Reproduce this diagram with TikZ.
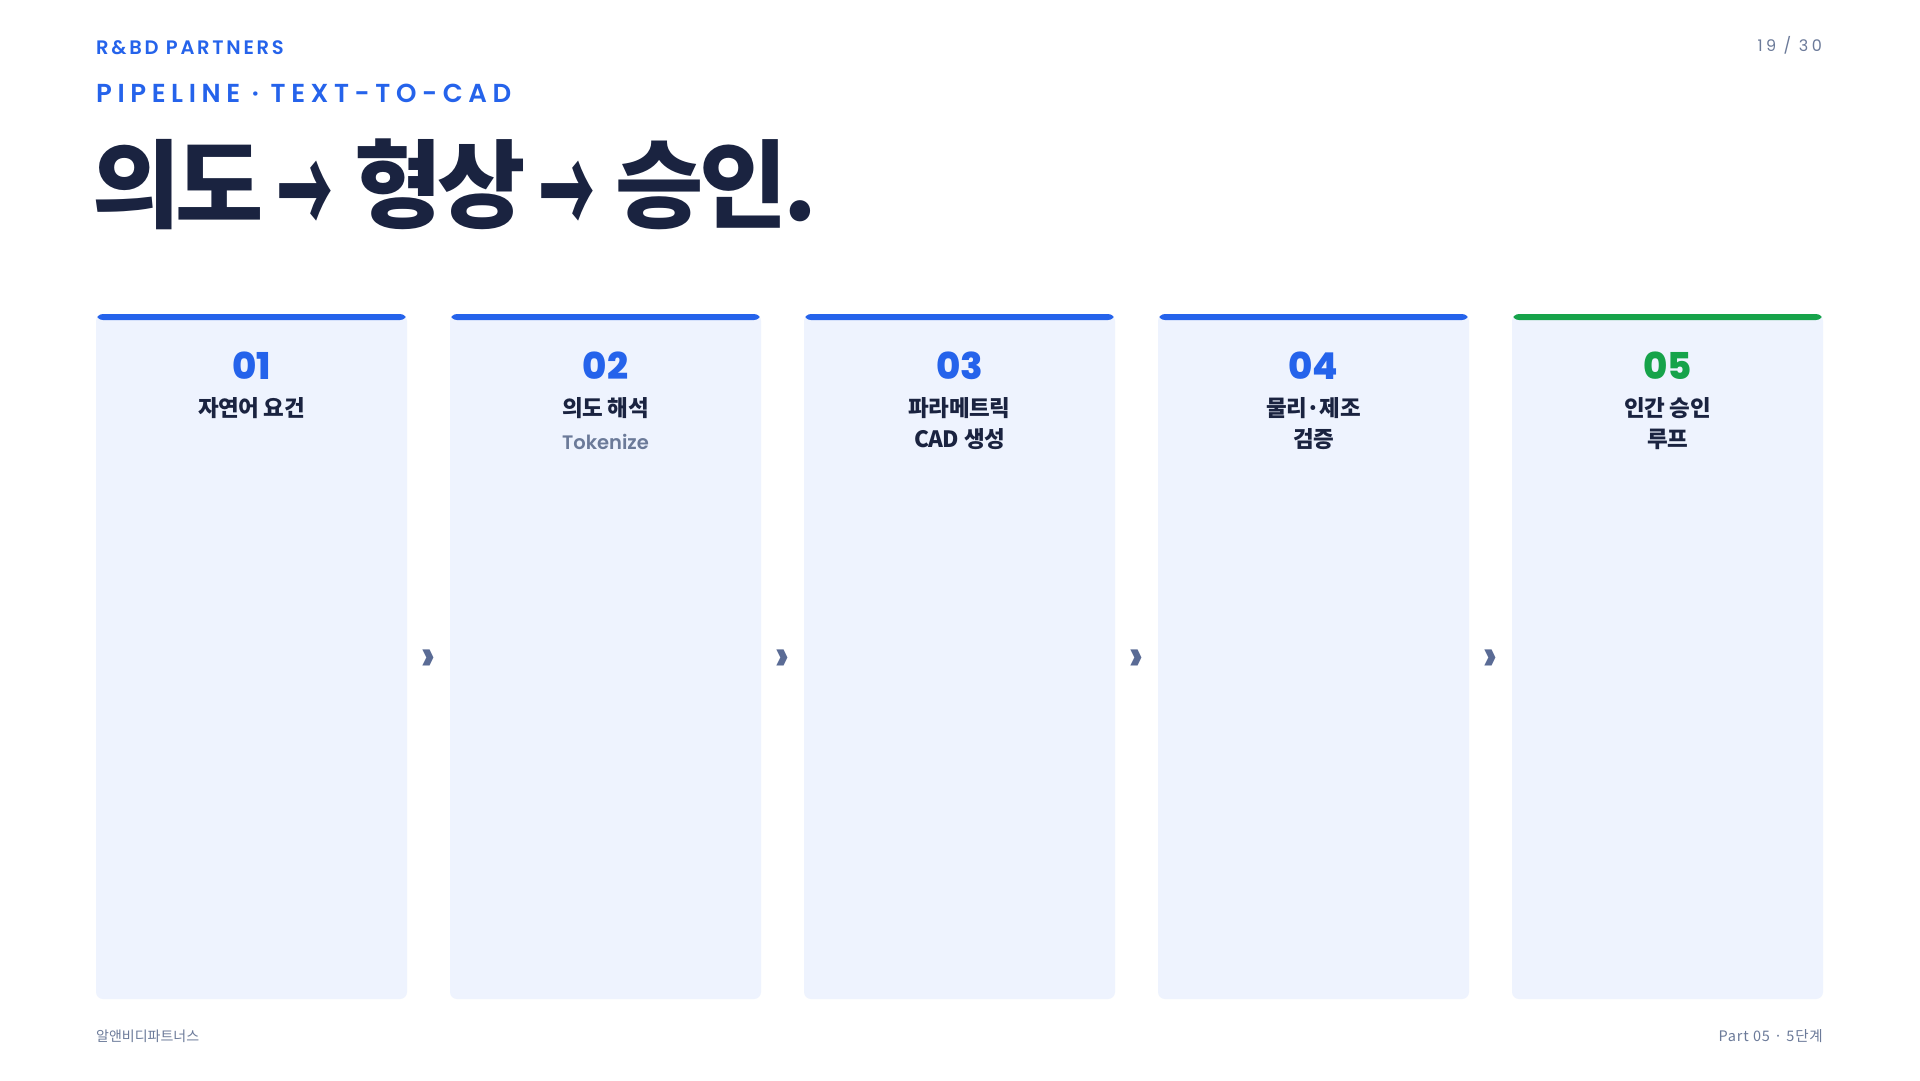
\documentclass[tikz,border=0pt]{standalone}
\usepackage{fontspec}
\usetikzlibrary{calc}
\setmainfont{Poppins}
\newfontfamily\pop{Poppins}
\newfontfamily\popX{Poppins ExtraBold}
\newfontfamily\popA[LetterSpace=14]{Poppins SemiBold}
\newfontfamily\popB[LetterSpace=21.5]{Poppins SemiBold}
\newfontfamily\popC[LetterSpace=21]{Poppins}
\newfontfamily\popM{Poppins SemiBold}
\newfontfamily\kr{Noto Sans CJK KR}
\newfontfamily\krt[LetterSpace=-5]{Noto Sans CJK KR}
\newfontfamily\krl[LetterSpace=-2]{Noto Sans CJK KR}
\newfontfamily\krf[LetterSpace=6]{Noto Sans CJK KR}
\definecolor{blueA}{HTML}{2563EB}
\definecolor{greenA}{HTML}{16A34A}
\definecolor{navy}{HTML}{1A2340}
\definecolor{grayA}{HTML}{6B7A99}
\definecolor{cardfill}{HTML}{EEF3FE}
\definecolor{chevc}{HTML}{5A6B95}
\newcommand\tarrow{\raisebox{-18pt}{\scalebox{0.58}[1.3]{→}}}
\tikzset{
  card/.style={fill=cardfill, rounded corners=7pt, minimum width=311pt, minimum height=685pt, inner sep=0pt, draw=none},
  num/.style={anchor=base, inner sep=0pt, font=\popX\fontsize{37}{40}\selectfont},
  lbl/.style={anchor=base, inner sep=0pt, text=navy, font=\krl\bfseries\fontsize{22.5}{26}\selectfont},
  sub/.style={anchor=base, inner sep=0pt, text=grayA, font=\popM\fontsize{19.5}{24}\selectfont},
  chev/.style={inner sep=0pt, text=chevc, font=\pop\bfseries\fontsize{46}{50}\selectfont},
}
\begin{document}
\begin{tikzpicture}[x=1pt,y=-1pt]
\fill[white] (0,0) rectangle (1920,1080);
\useasboundingbox (0,0) rectangle (1920,1080);
% header
\node[anchor=base west, inner sep=0pt, text=blueA, font=\popA\fontsize{19.5}{24}\selectfont] (brand) at (96,54) {R\&BD PARTNERS};
\node[anchor=base west, inner sep=0pt, text=blueA, font=\popB\fontsize{26}{30}\selectfont] (kicker) at (96,102) {PIPELINE · TEXT-TO-CAD};
\node[anchor=base west, inner sep=0pt, text=navy, font=\krt\bfseries\fontsize{96}{110}\selectfont] (title) at (92,220) {의도\hspace{-4pt} \tarrow\hspace{4pt} 형상\hspace{-4pt} \tarrow\hspace{4pt} 승인.};
\node[anchor=base east, inner sep=0pt, text=grayA, font=\popC\fontsize{16}{20}\selectfont] (page) at (1822,51) {19 / 30};
% cards
\foreach \i/\x/\col in {1/96/blueA,2/450/blueA,3/804/blueA,4/1158/blueA,5/1512/greenA}{
  \node[card, path picture={\fill[\col] ([yshift=2pt]path picture bounding box.north west) rectangle ([yshift=-6pt]path picture bounding box.north east);}] (c\i) at (\x+155.5,656.5) {};
  \node[num, text=\col] (n\i) at (\x+155.5,379) {0\i};
}
\node[lbl] (l1a) at (251.5,416) {자연어 요건};
\node[lbl] (l2a) at (605.5,416) {의도 해석};
\node[sub] (l2b) at (605.5,449) {Tokenize};
\node[lbl] (l3a) at (959.5,416) {파라메트릭};
\node[lbl] (l3b) at (959.5,447) {CAD 생성};
\node[lbl] (l4a) at (1313.5,416) {물리·제조};
\node[lbl] (l4b) at (1313.5,447) {검증};
\node[lbl] (l5a) at (1667.5,416) {인간 승인};
\node[lbl] (l5b) at (1667.5,447) {루프};
% chevrons
\foreach \a/\b in {1/2,2/3,3/4,4/5}{
  \node[chev] (ch\a) at ($(c\a.east)!0.5!(c\b.west)+(0,4)$) {›};
}
% footer
\node[anchor=base west, inner sep=0pt, text=grayA, font=\kr\fontsize{14}{18}\selectfont] (fl) at (96,1041) {알앤비디파트너스};
\node[anchor=base east, inner sep=0pt, text=grayA, font=\krf\fontsize{14.5}{18}\selectfont] (fr) at (1823,1041) {Part 05 · 5단계};
\end{tikzpicture}
\end{document}
